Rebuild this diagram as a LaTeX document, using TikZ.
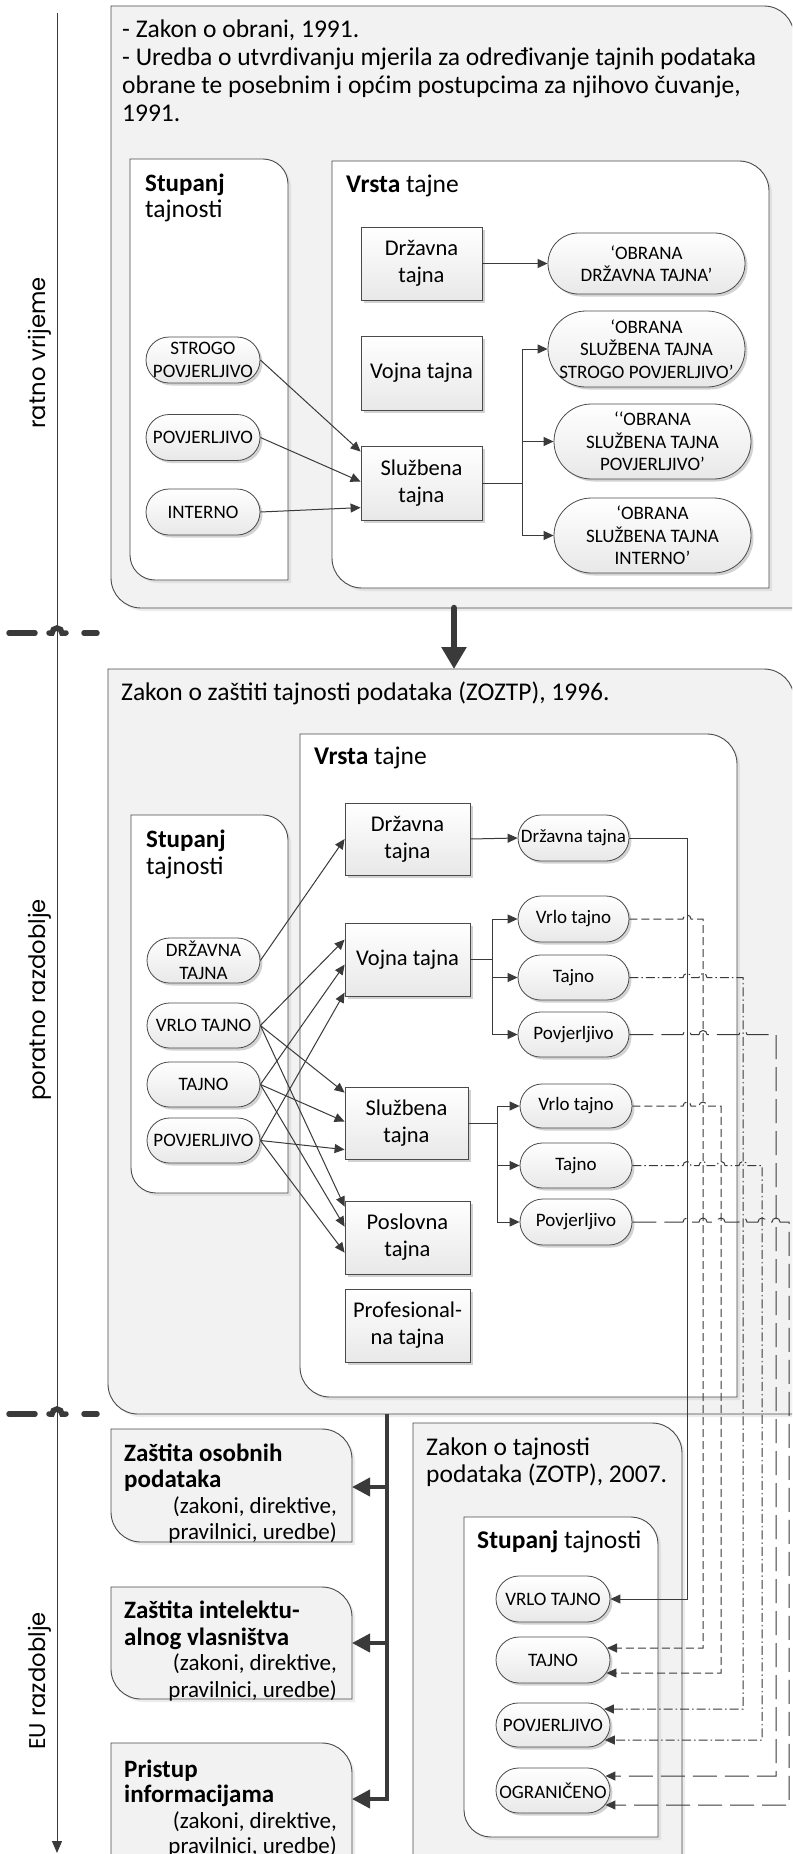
\documentclass[tikz,border=0pt]{standalone}
\usepackage{fontspec}
\setmainfont{Carlito}
\newfontfamily\erafont{Poppins}
\usetikzlibrary{arrows.meta,calc,shadows}

\definecolor{ink}{HTML}{3A3A3A}
\definecolor{rim}{HTML}{4A4A4A}
\definecolor{panel}{HTML}{F2F2F2}

% box with rounded top-right and bottom-left corners: [style]{x1}{y1}{x2}{y2}{radius}
\newcommand\dbox[6][]{\path[#1] (#2,#3) -- ({#4-#6},#3) arc[start angle=-90,end angle=0,radius=#6]
  -- (#4,#5) -- ({#2+#6},#5) arc[start angle=90,end angle=180,radius=#6] -- cycle;}

\tikzset{
  txt/.style={anchor=base west, inner sep=0pt, font=\fontsize{25.5}{28}\selectfont},
  txtb/.style={anchor=base west, inner sep=0pt, font=\fontsize{25}{28}\selectfont\bfseries},
  txtr/.style={anchor=base east, inner sep=0pt, font=\fontsize{23}{26}\selectfont},
  era/.style={rotate=90, anchor=base, inner sep=0pt, font=\erafont\fontsize{22.7}{26}\selectfont},
  whitebox/.style={draw=rim, line width=0.9pt, fill=white,
    drop shadow={shadow xshift=3pt, shadow yshift=-3pt, opacity=0.15}},
  shadedbox/.style={draw=rim, line width=0.9pt, fill=panel,
    drop shadow={shadow xshift=3pt, shadow yshift=-3pt, opacity=0.15}},
  rect/.style={rectangle, draw=rim, line width=0.8pt, top color=white, bottom color=black!9,
    drop shadow={shadow xshift=2.5pt, shadow yshift=-2.5pt, opacity=0.35},
    inner sep=0pt, align=center, font=\fontsize{22.5}{27}\selectfont},
  pill/.style n args={2}{rectangle, rounded corners=#2/2, minimum width=#1, minimum height=#2,
    draw=rim, line width=0.8pt, top color=white, bottom color=black!9,
    drop shadow={shadow xshift=2.5pt, shadow yshift=-2.5pt, opacity=0.35},
    inner sep=0pt, align=center, font=\fontsize{19}{22.5}\selectfont},
  conn/.style={draw=ink, line width=1pt, -{Triangle[length=10pt,width=9pt]}},
  fat/.style={draw=ink, line width=4pt, -{Triangle[length=18pt,width=18pt]}},
  marker/.style={draw=ink, line width=5.5pt, line cap=round},
  dsh/.style={dash pattern=on 8pt off 4pt},
  dshdot/.style={dash pattern=on 9pt off 3pt on 1.5pt off 3pt},
  longdsh/.style={dash pattern=on 24pt off 8pt},
  jump/.style 2 args={insert path={-- ($(#1 -| #2)+(-4,0)$) arc[start angle=180,end angle=360,radius=4]}}
}

\begin{document}
\begin{tikzpicture}[x=1pt,y=-1pt]
\useasboundingbox (0,0) rectangle (792,1854);
\clip (0,0) rectangle (792,1854);
\fill[white] (0,0) rectangle (792,1854);

% ---------------- time axis ----------------
\coordinate (ax0) at (57,13);
\coordinate (ax1) at (57,1853);
\draw[draw=ink, line width=1pt, -{Triangle[length=12pt,width=10pt]}] (ax0) -- (ax1);
\node[era] (e1) at (45,353) {ratno vrijeme};
\node[era] (e2) at (45,1000) {poratno razdoblje};
\node[era] (e3) at (45,1681) {EU razdoblje};
\foreach \yy in {633,1414}{
  \draw[marker] (9,\yy) -- (35,\yy);
  \draw[marker] (49,\yy) -- (52,\yy) arc[start angle=180,end angle=360,radius=5] -- (66,\yy);
  \draw[marker] (84,\yy) -- (97,\yy);
}

% ---------------- 1991 ----------------
\dbox[shadedbox]{111}{6}{794}{608}{30}
\node[txt] (l1a) at (122,38) {- Zakon o obrani, 1991.};
\node[txt] (l1b) at (122,66) {- Uredba o utvrdivanju mjerila za određivanje tajnih podataka};
\node[txt] (l1c) at (122,94) {obrane te posebnim i općim postupcima za njihovo čuvanje,};
\node[txt] (l1d) at (122,122) {1991.};

\dbox[whitebox]{130}{159}{288}{580}{25}
\node[txtb] (s1a) at (145,192) {Stupanj};
\node[txt] (s1b) at (145,218) {tajnosti};
\dbox[whitebox]{332}{161}{769}{588}{30}
\node[txt] (v1a) at (346,193) {\textbf{Vrsta} tajne};

\node[rect, minimum width=121, minimum height=73] (dt1) at (421.5,263.5) {Državna\\tajna};
\node[rect, minimum width=121, minimum height=74] (vt1) at (421.5,373) {Vojna tajna};
\node[rect, minimum width=121, minimum height=74] (st1) at (421.5,483) {Službena\\tajna};

\node[pill={114}{46}] (sp1) at (203,360) {STROGO\\POVJERLJIVO};
\node[pill={114}{46}] (pv1) at (203,437.5) {POVJERLJIVO};
\node[pill={114}{46}] (in1) at (203,512) {INTERNO};

\node[pill={197}{61}] (o1) at (646.5,263.5) {‘OBRANA\\DRŽAVNA TAJNA’};
\node[pill={197}{76}] (o2) at (646.5,349) {‘OBRANA\\SLUŽBENA TAJNA\\STROGO POVJERLJIVO’};
\node[pill={197}{75}] (o3) at (652.5,441.5) {‘‘OBRANA\\SLUŽBENA TAJNA\\POVJERLJIVO’};
\node[pill={197}{75}] (o4) at (652.5,535.5) {‘OBRANA\\SLUŽBENA TAJNA\\INTERNO’};

\draw[conn] (dt1.east) -- (o1.west);
\draw[conn] (sp1.east) -- ($(st1.north west)+(0,6)$);
\draw[conn] (pv1.east) -- ($(st1.north west)+(0,36)$);
\draw[conn] (in1.east) -- ($(st1.north west)+(0,62)$);
\draw[conn] (st1.east) -- ++(40,0) |- (o2.west);
\draw[conn] (st1.east) -- ++(40,0) |- (o3.west);
\draw[conn] (st1.east) -- ++(40,0) |- (o4.west);

% ---------------- 1996 ----------------
\coordinate (b1s) at (454,608);
\coordinate (b2n) at (454,669);
\dbox[shadedbox]{108}{669}{794}{1414}{30}
\draw[draw=ink, line width=6.5pt, line cap=round, -{Triangle[length=22pt,width=24pt]}] (b1s) -- (b2n);
\node[txt] (l2a) at (121,700) {Zakon o zaštiti tajnosti podataka (ZOZTP), 1996.};

\dbox[whitebox]{300}{734}{737}{1397}{30}
\node[txt] (v2a) at (314,764) {\textbf{Vrsta} tajne};
\dbox[whitebox]{131}{815}{288}{1193}{25}
\node[txtb] (s2a) at (146,847) {Stupanj};
\node[txt] (s2b) at (146,874) {tajnosti};

\node[rect, minimum width=125, minimum height=72] (dt2) at (407.5,839) {Državna\\tajna};
\node[rect, minimum width=125, minimum height=73] (vt2) at (407.5,959.5) {Vojna tajna};
\node[rect, minimum width=123, minimum height=72] (sl2) at (406.5,1123) {Službena\\tajna};
\node[rect, minimum width=125, minimum height=73] (po2) at (407.5,1237.5) {Poslovna\\tajna};
\node[rect, minimum width=125, minimum height=73] (pr2) at (407.5,1325.5) {Profesional-\\na tajna};

\node[pill={113}{45}] (ldt) at (203.5,960.5) {DRŽAVNA\\TAJNA};
\node[pill={113}{45}] (lvt) at (203.5,1025.5) {VRLO TAJNO};
\node[pill={113}{45}] (ltj) at (203.5,1084.5) {TAJNO};
\node[pill={113}{45}] (lpv) at (203.5,1140.5) {POVJERLJIVO};

\node[pill={111}{46}] (rdt) at (573.5,838) {Državna tajna};
\node[pill={111}{46}] (rv1) at (573.5,919) {Vrlo tajno};
\node[pill={111}{45}] (rt1) at (573.5,977.5) {Tajno};
\node[pill={111}{45}] (rp1) at (573.5,1034.5) {Povjerljivo};
\node[pill={112}{44}] (rv2) at (576,1106) {Vrlo tajno};
\node[pill={112}{45}] (rt2) at (576,1165.5) {Tajno};
\node[pill={112}{46}] (rp2) at (576,1222) {Povjerljivo};

\draw[conn] (dt2.east) -- (rdt.west);
\draw[conn] (vt2.east) -- ++(22,0) |- (rv1.west);
\draw[conn] (vt2.east) -- ++(22,0) |- (rt1.west);
\draw[conn] (vt2.east) -- ++(22,0) |- (rp1.west);
\draw[conn] (sl2.east) -- ++(29,0) |- (rv2.west);
\draw[conn] (sl2.east) -- ++(29,0) |- (rt2.west);
\draw[conn] (sl2.east) -- ++(29,0) |- (rp2.west);

\draw[conn] (ldt.east) -- (dt2.west);
\draw[conn] (lvt.east) -- ($(vt2.north west)+(0,17)$);
\draw[conn] (ltj.east) -- ($(vt2.north west)+(0,42)$);
\draw[conn] (lpv.east) -- ($(vt2.north west)+(0,70)$);
\draw[conn] (lvt.east) -- ($(sl2.north west)+(0,6)$);
\draw[conn] (ltj.east) -- ($(sl2.north west)+(0,35)$);
\draw[conn] (lpv.east) -- ($(sl2.north west)+(0,63)$);
\draw[conn] (lvt.east) -- ($(po2.north west)+(0,6)$);
\draw[conn] (ltj.east) -- ($(po2.north west)+(0,26)$);
\draw[conn] (lpv.east) -- ($(po2.north west)+(0,52)$);

% ---------------- EU period ----------------
\dbox[shadedbox]{111}{1429}{352}{1542}{30}
\dbox[shadedbox]{111}{1587}{352}{1699}{30}
\dbox[shadedbox]{111}{1743}{352}{1890}{30}
\node[txtb] (z1a) at (124,1461) {Zaštita osobnih};
\node[txtb] (z1b) at (124,1487) {podataka};
\node[txtr] (z1c) at (337,1513) {(zakoni, direktive,};
\node[txtr] (z1d) at (337,1539) {pravilnici, uredbe)};
\node[txtb] (z2a) at (124,1618) {Zaštita intelektu-};
\node[txtb] (z2b) at (124,1645) {alnog vlasništva};
\node[txtr] (z2c) at (337,1670) {(zakoni, direktive,};
\node[txtr] (z2d) at (337,1697) {pravilnici, uredbe)};
\node[txtb] (z3a) at (124,1777) {Pristup};
\node[txtb] (z3b) at (124,1802) {informacijama};
\node[txtr] (z3c) at (337,1828) {(zakoni, direktive,};
\node[txtr] (z3d) at (337,1853) {pravilnici, uredbe)};

\coordinate (b2b) at (387,1414);
\coordinate (lb1) at (352,1487);
\coordinate (lb2) at (352,1643);
\coordinate (lb3) at (352,1799);
\draw[fat] (b2b) |- (lb1);
\draw[fat] (b2b) |- (lb2);
\draw[fat] (b2b) |- (lb3);

\dbox[shadedbox]{413}{1423}{682}{1900}{30}
\node[txt] (l3a) at (426,1455) {Zakon o tajnosti};
\node[txt] (l3b) at (426,1482) {podataka (ZOTP), 2007.};
\dbox[whitebox]{464}{1517}{658}{1837}{27}
\node[txt] (s3a) at (477,1548) {\textbf{Stupanj} tajnosti};

\node[pill={114}{46}] (zvt) at (553,1599) {VRLO TAJNO};
\node[pill={114}{46}] (ztj) at (553,1660) {TAJNO};
\node[pill={114}{44}] (zpv) at (553,1725) {POVJERLJIVO};
\node[pill={114}{45}] (zog) at (553,1790.5) {OGRANIČENO};

% arrow entry points on the right ends of the 2007 levels
\coordinate (ztu) at ($(ztj.east)+(-3.4,-12)$);
\coordinate (ztl) at ($(ztj.east)+(-4,13)$);
\coordinate (zpu) at ($(zpv.east)+(-6.5,-16)$);
\coordinate (zpl) at ($(zpv.east)+(-5.6,15)$);
\coordinate (zou) at ($(zog.east)+(-5,-14.5)$);
\coordinate (zol) at ($(zog.east)+(-5,14.5)$);

% routing columns
\coordinate (k1) at (687,0);
\coordinate (k2) at (703,0);
\coordinate (k5) at (721,0);
\coordinate (k3) at (743,0);
\coordinate (k6) at (762,0);
\coordinate (k4) at (776,0);
\coordinate (k7) at (789,0);

\draw[conn] (rdt.east) -| (zvt.east -| k1) -- (zvt.east);
\draw[conn, dsh] (rv1.east) [jump={rv1.east}{k1}] -| (ztu -| k2) -- (ztu);
\draw[conn, dshdot] (rt1.east) [jump={rt1.east}{k1}] [jump={rt1.east}{k2}] -| (zpu -| k3) -- (zpu);
\draw[conn, longdsh] (rp1.east) [jump={rp1.east}{k1}] [jump={rp1.east}{k2}] [jump={rp1.east}{k3}]
  -| (zou -| k4) -- (zou);
\draw[conn, dsh] (rv2.east) [jump={rv2.east}{k1}] [jump={rv2.east}{k2}] -| (ztl -| k5) -- (ztl);
\draw[conn, dshdot] (rt2.east) [jump={rt2.east}{k1}] [jump={rt2.east}{k2}] [jump={rt2.east}{k5}]
  [jump={rt2.east}{k3}] -| (zpl -| k6) -- (zpl);
\draw[conn, longdsh] (rp2.east) [jump={rp2.east}{k1}] [jump={rp2.east}{k2}] [jump={rp2.east}{k5}]
  [jump={rp2.east}{k3}] [jump={rp2.east}{k6}] [jump={rp2.east}{k4}] -| (zol -| k7) -- (zol);

\end{tikzpicture}
\end{document}
